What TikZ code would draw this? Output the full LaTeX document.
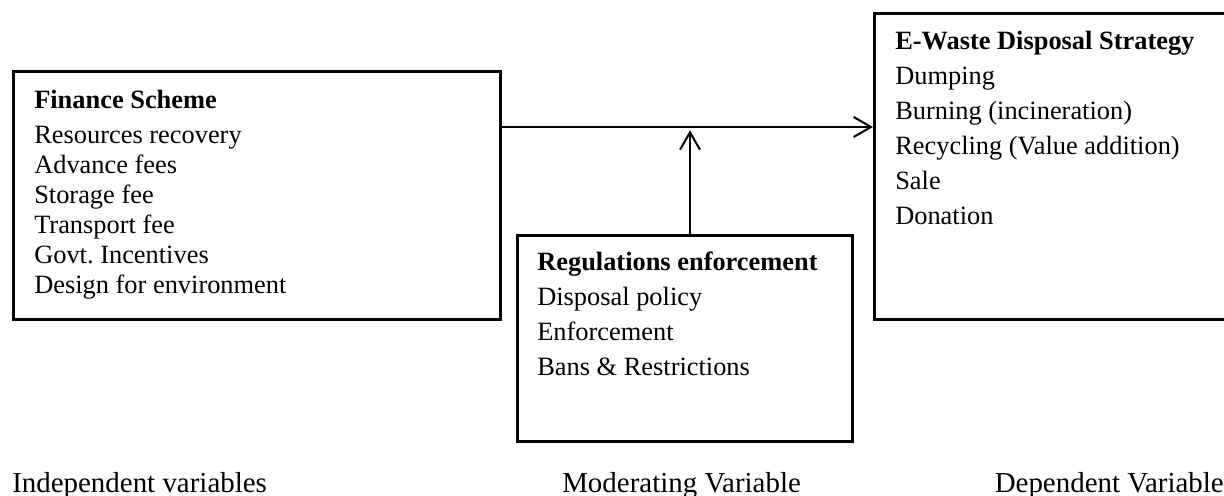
\documentclass[tikz,border=0pt]{standalone}
\usepackage{fontspec}
\setmainfont{Liberation Serif}
\usetikzlibrary{arrows.meta}
\frenchspacing

\begin{document}
\begin{tikzpicture}[x=0.75pt,y=-0.75pt,
  box/.style={draw,line width=2pt,inner sep=0pt,anchor=north west},
  item/.style={anchor=base west,align=left,inner sep=0pt,
    font=\fontsize{19.8}{26.25}\selectfont},
  caption/.style={inner sep=0pt,font=\fontsize{21.7}{26}\selectfont},
  arr/.style={line width=1.5pt,-{Straight Barb[length=13pt,width=15pt,line width=1.5pt]}}]
\useasboundingbox (0,0) rectangle (1224,496);

\node[box,minimum width=365.25pt,minimum height=186pt] (fin) at (12,70) {};
\node[box,minimum width=266.25pt,minimum height=229.5pt] (waste) at (873,12) {};
\node[box,minimum width=251.25pt,minimum height=154.5pt] (reg) at (516,234) {};

% text blocks, placed by the baseline of their last line
\node[item,font=\fontsize{19.8}{22.5}\selectfont] (finT) at (34,293)
{\textbf{Finance Scheme}\\[3.75pt]
Resources recovery\\
Advance fees\\
Storage fee\\
Transport fee\\
Govt. Incentives\\
Design for environment};
\node[item] (wasteT) at (895,224)
{\textbf{E-Waste Disposal Strategy}\\
Dumping\\
Burning (incineration)\\
Recycling (Value addition)\\
Sale\\
Donation};
\node[item] (regT) at (537,375)
{\textbf{Regulations enforcement}\\
Disposal policy\\
Enforcement\\
Bans \& Restrictions};

\coordinate (join) at (690,127);
\draw[arr] (fin.east |- join) -- (waste.west |- join);
\draw[arr,shorten >=2.5pt] (reg.north -| join) -- (join);

\node[caption,anchor=base west] (indep) at (12,492) {Independent variables};
\node[caption,anchor=base west] (moder) at (562,492) {Moderating Variable};
\node[caption,anchor=base east] (dep) at (1224,492) {Dependent Variable};
\end{tikzpicture}
\end{document}
